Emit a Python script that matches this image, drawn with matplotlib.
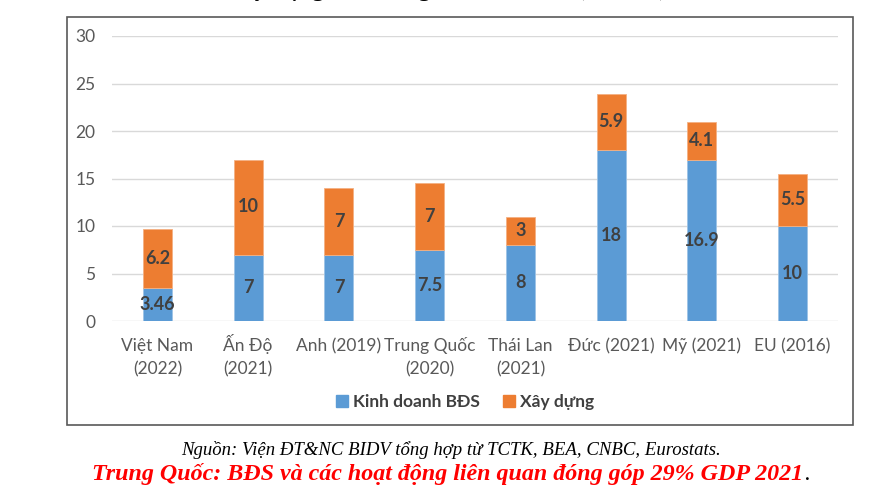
import matplotlib

matplotlib.use("Agg")
import matplotlib.pyplot as plt
from matplotlib.patches import Patch, Rectangle


CATEGORIES = [
    "Việt Nam\n(2022)",
    "Ấn Độ\n(2021)",
    "Anh (2019)",
    "Trung Quốc\n(2020)",
    "Thái Lan\n(2021)",
    "Đức (2021)",
    "Mỹ (2021)",
    "EU (2016)",
]
KINH_DOANH = [3.46, 7, 7, 7.5, 8, 18, 16.9, 10]
XAY_DUNG = [6.2, 10, 7, 7, 3, 5.9, 4.1, 5.5]
SERIES_NAMES = ["Kinh doanh BĐS", "Xây dựng"]
Y_TICKS = [0, 5, 10, 15, 20, 25, 30]

TITLE = "Tỷ trọng BĐS trong GDP các nước (% GDP)"
SOURCE = "Nguồn: Viện ĐT&NC BIDV tổng hợp từ TCTK, BEA, CNBC, Eurostats."
NOTE = "Trung Quốc: BĐS và các hoạt động liên quan đóng góp 29% GDP 2021"

BLUE = "#5B9BD5"
ORANGE = "#ED7D31"
TEXT_GRAY = "#595959"
SANS = ["Lato", "DejaVu Sans"]
SERIF = ["Liberation Serif", "DejaVu Serif"]

W, H = 896, 496


def fx(px):
    return px / W


def fy(py):
    return 1 - py / H


fig = plt.figure(figsize=(W / 100, H / 100), dpi=100)

# chart frame
fig.patches.append(
    Rectangle((fx(67), fy(425)), fx(853) - fx(67), fy(17) - fy(425),
              transform=fig.transFigure, fill=False, edgecolor="#595959",
              linewidth=1.2, zorder=0)
)

ax = fig.add_axes([fx(112), fy(321), fx(838) - fx(112), fy(36) - fy(321)])
x = list(range(len(CATEGORIES)))
b1 = ax.bar(x, KINH_DOANH, width=0.32, color=BLUE, edgecolor="#9DC3E6",
            linewidth=0.6, zorder=3)
b2 = ax.bar(x, XAY_DUNG, width=0.32, bottom=KINH_DOANH, color=ORANGE,
            edgecolor="#F4B183", linewidth=0.6, zorder=3)
for bars in (b1, b2):
    ax.bar_label(bars, fmt="{:g}", label_type="center", color="#404040",
                 fontsize=13, fontweight="bold", family=SANS)

ax.set_xlim(-0.5, len(CATEGORIES) - 0.5)
ax.set_ylim(0, 30)
ax.set_yticks(Y_TICKS)
ax.set_xticks(x)
ax.set_xticklabels([])
ax.grid(axis="y", color="#D9D9D9", linewidth=1, zorder=0)
ax.set_axisbelow(True)
for s in ax.spines.values():
    s.set_visible(False)
ax.tick_params(axis="y", length=0, pad=12, labelsize=12.5, labelcolor=TEXT_GRAY)
ax.tick_params(axis="x", length=0)
for lab in ax.get_yticklabels():
    lab.set_family(SANS)

# category labels, each line on its own baseline so accents don't shift them
for i, cat in enumerate(CATEGORIES):
    for k, line in enumerate(cat.split("\n")):
        ax.annotate(line, xy=(i, 0), xycoords=ax.get_xaxis_transform(),
                    xytext=(0, -30 - 23 * k), textcoords="offset pixels",
                    ha="center", va="baseline", fontsize=12.5,
                    color=TEXT_GRAY, family=SANS, annotation_clip=False)

handles = [Patch(color=BLUE), Patch(color=ORANGE)]
fig.legend(handles, SERIES_NAMES, loc="center", bbox_to_anchor=(fx(465), fy(402)),
           ncol=2, frameon=False, handlelength=0.7, handleheight=0.7,
           handletextpad=0.3, columnspacing=1.3,
           prop={"family": SANS, "weight": "bold", "size": 12.5})
for t in fig.legends[0].get_texts():
    t.set_color("#404040")

# title cut off at the top edge of the image
fig.text(fx(240), fy(-4), TITLE, ha="left", va="baseline", family=SERIF,
         fontweight="bold", fontsize=16)

fig.text(fx(451), fy(455), SOURCE, ha="center", va="baseline", family=SERIF,
         style="italic", fontsize=13.5)
fig.text(fx(803), fy(480), NOTE, ha="right", va="baseline", family=SERIF,
         style="italic", fontweight="bold", fontsize=17.3, color="#FF0000")
fig.text(fx(804), fy(480), ".", ha="left", va="baseline", family=SERIF,
         style="italic", fontsize=17, color="black")

fig.savefig("out.png", dpi=100)
